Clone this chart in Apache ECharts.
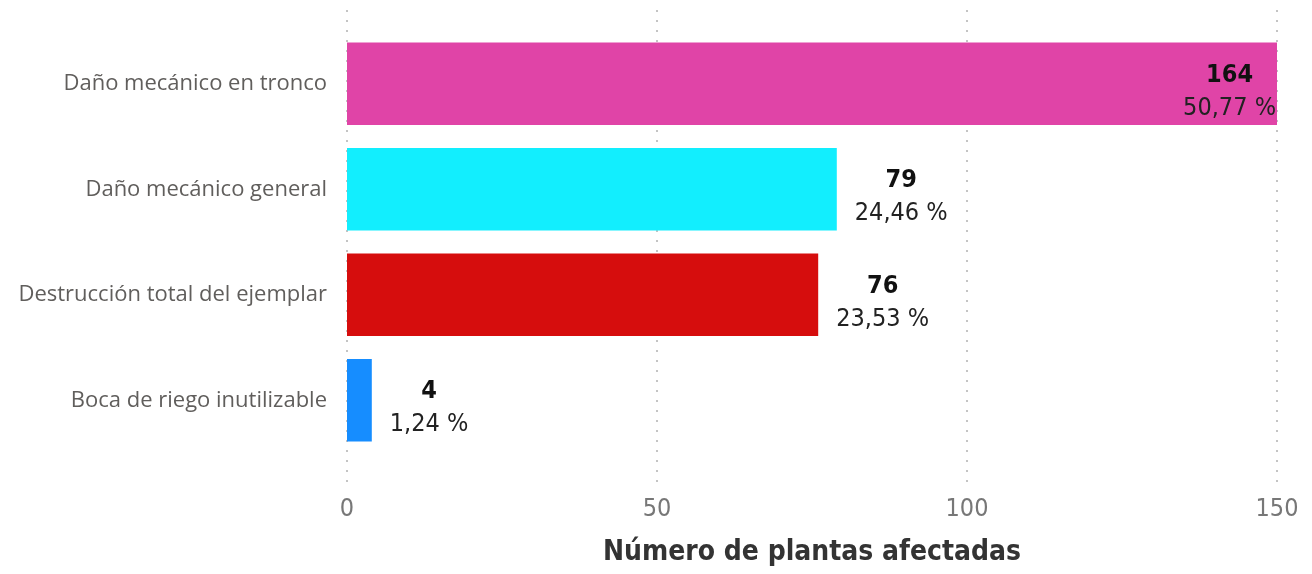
<!DOCTYPE html>
<html>
<head>
<meta charset="utf-8">
<script src="https://cdn.jsdelivr.net/npm/echarts@6/dist/echarts.min.js"></script>
<style>
  html, body { margin: 0; padding: 0; background: #fff; }
  #chart { width: 1312px; height: 574px; }
</style>
</head>
<body>
<div id="chart"></div>
<script>
// datos
const categorias = ['Daño mecánico en tronco', 'Daño mecánico general', 'Destrucción total del ejemplar', 'Boca de riego inutilizable'];
const valores = [164, 79, 76, 4];
const porcentajes = ['50,77 %', '24,46 %', '23,53 %', '1,24 %'];
const colores = ['#E044A7', '#12EEFE', '#D60D0D', '#168DFF'];
const ticksX = [0, 50, 100, 150];

const chart = echarts.init(document.getElementById('chart'));

const rich = {
  v: { fontFamily: 'DejaVu Sans Condensed', fontWeight: 'bold', fontSize: 25, color: '#111', align: 'center', lineHeight: 33 },
  p: { fontFamily: 'DejaVu Sans Condensed', fontSize: 25, color: '#222', align: 'center', lineHeight: 33 }
};

const datos = valores.map((v, i) => {
  const item = { value: v, itemStyle: { color: colores[i] } };
  if (i === 0) {
    // la barra se corta en 150, etiqueta dentro
    item.label = { position: 'insideRight', distance: 1 };
  }
  return item;
});

const option = {
  animation: false,
  grid: [
    { left: 347, right: 35, top: 31, height: 422 },
    { left: 347, right: 35, top: 10, height: 478 }
  ],
  xAxis: [
    {
      type: 'value', gridIndex: 0, min: ticksX[0], max: ticksX[ticksX.length - 1], interval: 50,
      axisLine: { show: false }, axisTick: { show: false }, splitLine: { show: false },
      axisLabel: { fontFamily: 'DejaVu Sans Condensed', fontSize: 25, color: '#777', margin: 44 },
      name: 'Número de plantas afectadas', nameLocation: 'middle', nameGap: 86,
      nameTextStyle: { fontFamily: 'DejaVu Sans Condensed', fontSize: 28, fontWeight: 'bold', color: '#333' }
    },
    {
      type: 'value', gridIndex: 1, min: ticksX[0], max: ticksX[ticksX.length - 1], interval: 50,
      axisLine: { show: false }, axisTick: { show: false }, axisLabel: { show: false },
      splitLine: { show: true, lineStyle: { type: [2, 8], color: '#c4c4c4', width: 2 } }
    }
  ],
  yAxis: [
    {
      type: 'category', gridIndex: 0, inverse: true, data: categorias,
      axisLine: { show: false }, axisTick: { show: false },
      axisLabel: { fontFamily: 'Open Sans', fontSize: 22, color: '#605E5C', margin: 20 }
    },
    { type: 'value', gridIndex: 1, show: false }
  ],
  series: [
    {
      type: 'bar', xAxisIndex: 0, yAxisIndex: 0,
      barCategoryGap: '22%',
      data: datos,
      label: {
        show: true, position: 'right', distance: 18, offset: [0, 8],
        formatter: p => '{v|' + p.value + '}\n{p|' + porcentajes[p.dataIndex] + '}',
        rich: rich
      }
    }
  ]
};

chart.setOption(option);
</script>
</body>
</html>
